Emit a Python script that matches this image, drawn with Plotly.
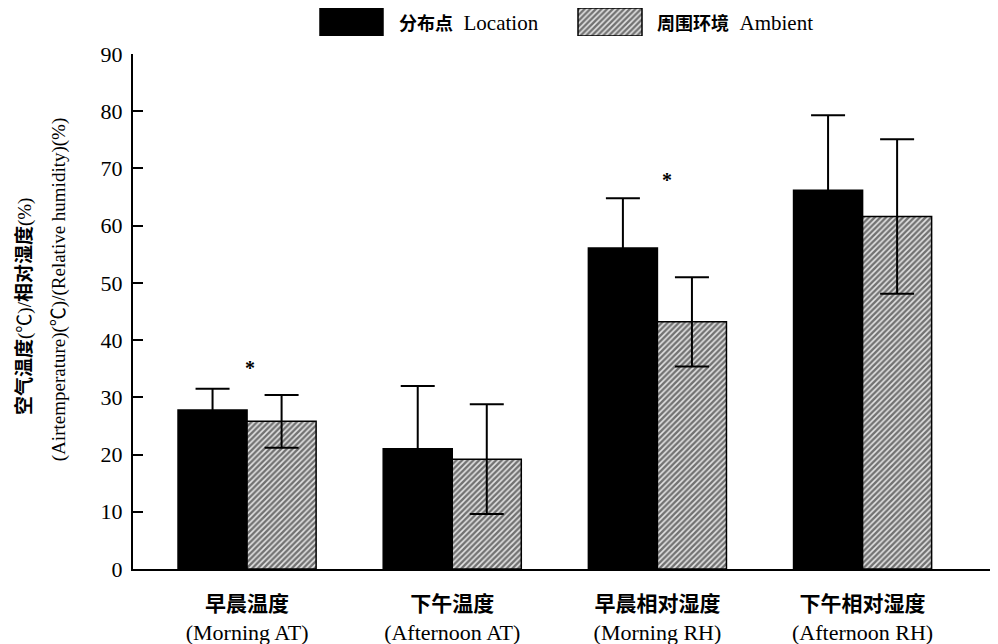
import plotly.graph_objects as go

cat_cn = ["早晨温度", "下午温度", "早晨相对湿度", "下午相对湿度"]
cat_en = ["(Morning AT)", "(Afternoon AT)", "(Morning RH)", "(Afternoon RH)"]
location_mean = [27.8, 21.0, 56.1, 66.2]
location_err = [3.7, 11.0, 8.7, 13.1]
ambient_mean = [25.8, 19.2, 43.2, 61.6]
ambient_err = [4.6, 9.6, 7.8, 13.5]
sig_cats = [0, 2]
sig_y = [35.1, 68.0]
sig_xshift = [3, 10]
y_ticks = [0, 10, 20, 30, 40, 50, 60, 70, 80, 90]

LAT = "Liberation Serif"
FAM = "Liberation Serif, 'Noto Sans CJK SC'"
tick_text = [f"<b><span style='font-family:Noto Sans CJK SC;font-size:21px'>{c}</span></b><br>{e}"
             for c, e in zip(cat_cn, cat_en)]

hatch = dict(shape="/", fgcolor="black", bgcolor="#e4e4e4", size=4, solidity=0.6)

fig = go.Figure()
fig.add_trace(go.Bar(
    x=cat_en, y=location_mean, name="Location",
    marker=dict(color="black", line=dict(color="black", width=1.5)),
    error_y=dict(type="data", array=location_err, symmetric=True,
                 color="black", thickness=2, width=17),
    showlegend=False))
fig.add_trace(go.Bar(
    x=cat_en, y=ambient_mean, name="Ambient",
    marker=dict(color="white", pattern=hatch,
                line=dict(color="black", width=1.5)),
    error_y=dict(type="data", array=ambient_err, symmetric=True,
                 color="black", thickness=2, width=17),
    showlegend=False))

# legend swatches on auxiliary axes (screen-pixel-like coordinates)
fig.add_trace(go.Bar(x=[351.5], y=[1], width=[63], base=0, xaxis="x2", yaxis="y2",
                     marker=dict(color="black", line=dict(color="black", width=1.5)),
                     showlegend=False, hoverinfo="skip"))
fig.add_trace(go.Bar(x=[610], y=[1], width=[64], base=0, xaxis="x2", yaxis="y2",
                     marker=dict(color="white", pattern=hatch,
                                 line=dict(color="black", width=1.5)),
                     showlegend=False, hoverinfo="skip"))

annotations = []
annotations.append(dict(x=397, y=0.5, xref="x2", yref="y2", xanchor="left", yanchor="middle",
                        showarrow=False,
                        text="<b><span style='font-family:Noto Sans CJK SC;font-size:18px'>分布点</span></b>  Location",
                        font=dict(family=FAM, size=21, color="black")))
annotations.append(dict(x=655, y=0.5, xref="x2", yref="y2", xanchor="left", yanchor="middle",
                        showarrow=False,
                        text="<b><span style='font-family:Noto Sans CJK SC;font-size:18px'>周围环境</span></b>  Ambient",
                        font=dict(family=FAM, size=21, color="black")))
for ci, yv, xs in zip(sig_cats, sig_y, sig_xshift):
    annotations.append(dict(x=cat_en[ci], y=yv, xref="x", yref="y", xshift=xs,
                            showarrow=False, text="<b>*</b>",
                            font=dict(family=FAM, size=20, color="black")))
annotations.append(dict(x=0, y=0.467, xref="paper", yref="paper", xshift=-111,
                        xanchor="center", yanchor="middle",
                        textangle=-90, showarrow=False,
                        text="<b><span style='font-family:Noto Sans CJK SC'>空气温度</span></b>(℃)/<b><span style='font-family:Noto Sans CJK SC'>相对湿度</span></b>(%)",
                        font=dict(family=FAM, size=19, color="black")))
annotations.append(dict(x=0, y=0.497, xref="paper", yref="paper", xshift=-74,
                        xanchor="center", yanchor="middle",
                        textangle=-90, showarrow=False,
                        text="(Airtemperature)(℃)/(Relative humidity)(%)",
                        font=dict(family=FAM, size=19, color="black")))

fig.update_layout(
    width=990, height=636,
    margin=dict(l=125, r=0, t=0, b=75, autoexpand=False),
    plot_bgcolor="white", paper_bgcolor="white",
    barmode="group", bargap=0.327, bargroupgap=0,
    font=dict(family=FAM, color="black"),
    xaxis=dict(domain=[0, 1], range=[-0.556, 3.66], tickmode="array",
               tickvals=cat_en, ticktext=tick_text, ticks="",
               showline=True, linecolor="black", linewidth=2,
               tickfont=dict(family=FAM, size=22, color="black"),
               ticklabelstandoff=14, automargin=False,
               showgrid=False, zeroline=False, anchor="y"),
    yaxis=dict(domain=[0, 0.918], range=[0, 90], tickvals=y_ticks,
               ticks="inside", ticklen=10, tickwidth=2, tickcolor="black",
               showline=True, linecolor="black", linewidth=2,
               tickfont=dict(family=LAT, size=22, color="black"),
               ticklabelstandoff=4, automargin=False,
               showgrid=False, zeroline=False, anchor="x"),
    xaxis2=dict(domain=[0, 1], range=[133, 998], visible=False, anchor="y2", automargin=False),
    yaxis2=dict(domain=[0.95, 1.0], range=[0, 1], visible=False, anchor="x2", automargin=False),
    annotations=annotations,
)

fig.write_html("out.html")
